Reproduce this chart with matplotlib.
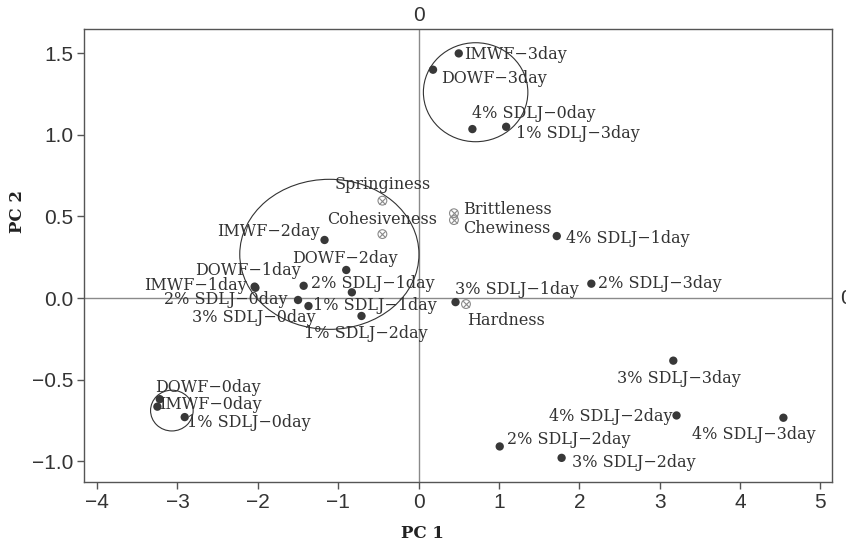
import matplotlib
matplotlib.use("Agg")
import matplotlib.pyplot as plt
from matplotlib.patches import Ellipse

# sample scores (PC1, PC2)
samples = ["IMWF−0day", "DOWF−0day", "1% SDLJ−0day", "2% SDLJ−0day", "3% SDLJ−0day", "4% SDLJ−0day",
           "IMWF−1day", "DOWF−1day", "1% SDLJ−1day", "2% SDLJ−1day", "3% SDLJ−1day", "4% SDLJ−1day",
           "IMWF−2day", "DOWF−2day", "1% SDLJ−2day", "2% SDLJ−2day", "3% SDLJ−2day", "4% SDLJ−2day",
           "IMWF−3day", "DOWF−3day", "1% SDLJ−3day", "2% SDLJ−3day", "3% SDLJ−3day", "4% SDLJ−3day"]
pc1 = [-3.25, -3.22, -2.91, -1.50, -0.83, 0.67,
       -2.03, -2.04, -1.37, -1.43, 0.46, 1.72,
       -1.17, -0.90, -0.71, 1.01, 1.78, 3.21,
       0.50, 0.18, 1.09, 2.15, 3.17, 4.54]
pc2 = [-0.666, -0.62, -0.73, -0.012, 0.035, 1.036,
       0.063, 0.07, -0.049, 0.075, -0.025, 0.38,
       0.356, 0.172, -0.11, -0.91, -0.98, -0.72,
       1.50, 1.40, 1.05, 0.088, -0.384, -0.734]

# texture attributes (loadings)
attrs = ["Springiness", "Cohesiveness", "Brittleness", "Chewiness", "Hardness"]
attr_pc1 = [-0.45, -0.45, 0.44, 0.44, 0.59]
attr_pc2 = [0.597, 0.392, 0.52, 0.478, -0.037]

# group circles: centre x, centre y, width, height
grp_x = [0.71, -1.11, -3.07]
grp_y = [1.262, 0.268, -0.69]
grp_w = [1.30, 2.23, 0.53]
grp_h = [0.607, 0.92, 0.25]

xticks = [-4, -3, -2, -1, 0, 1, 2, 3, 4, 5]
yticks = [-1.0, -0.5, 0.0, 0.5, 1.0, 1.5]

# label placement (offset in pixels, horizontal alignment)
lab_pos = {
    "IMWF−0day": (2, 2, "left"), "DOWF−0day": (-5, 12, "left"), "1% SDLJ−0day": (2, -5, "left"),
    "2% SDLJ−0day": (-11, 0, "right"), "3% SDLJ−0day": (-36, -25, "right"), "4% SDLJ−0day": (0, 16, "left"),
    "IMWF−1day": (-9, 2, "right"), "DOWF−1day": (-7, 16, "center"), "1% SDLJ−1day": (5, 1, "left"),
    "2% SDLJ−1day": (7, 2, "left"), "3% SDLJ−1day": (-1, 13, "left"), "4% SDLJ−1day": (9, -2, "left"),
    "IMWF−2day": (-5, 8, "right"), "DOWF−2day": (-1, 11, "center"), "1% SDLJ−2day": (4, -18, "center"),
    "2% SDLJ−2day": (7, 7, "left"), "3% SDLJ−2day": (10, -5, "left"), "4% SDLJ−2day": (-4, -1, "right"),
    "IMWF−3day": (5, -1, "left"), "DOWF−3day": (8, -9, "left"), "1% SDLJ−3day": (10, -7, "left"),
    "2% SDLJ−3day": (7, 0, "left"), "3% SDLJ−3day": (6, -18, "center"), "4% SDLJ−3day": (-30, -17, "center"),
}
attr_lab = {"Springiness": (0, 16, "center"), "Cohesiveness": (0, 15, "center"),
            "Brittleness": (9, 4, "left"), "Chewiness": (9, -8, "left"), "Hardness": (1, -16, "left")}

plt.rcParams["font.family"] = "Liberation Sans"
fig = plt.figure(figsize=(8.46, 5.45), dpi=100)
ax = fig.add_axes([0.0996, 0.115, 0.8834, 0.831])

ax.axhline(0, color="#8a8a8a", lw=1, zorder=1)
ax.axvline(0, color="#8a8a8a", lw=1, zorder=1)

for cx, cy, w, h in zip(grp_x, grp_y, grp_w, grp_h):
    ax.add_patch(Ellipse((cx, cy), w, h, fill=False, edgecolor="#333333", lw=0.8, zorder=2))

ax.scatter(pc1, pc2, s=36, color="#383838", edgecolors="none", zorder=3)
ax.scatter(attr_pc1, attr_pc2, s=40, facecolors="none", edgecolors="#8a8a8a", linewidths=0.8, zorder=3)
ax.scatter(attr_pc1, attr_pc2, s=22, marker="x", color="#8a8a8a", linewidths=0.8, zorder=3)

for name, x, y in zip(samples, pc1, pc2):
    dx, dy, ha = lab_pos[name]
    ax.annotate(name, (x, y), xytext=(dx, dy), textcoords="offset pixels", ha=ha, va="center",
                family="DejaVu Serif", fontsize=11.5, color="#333333", zorder=4)
for name, x, y in zip(attrs, attr_pc1, attr_pc2):
    dx, dy, ha = attr_lab[name]
    ax.annotate(name, (x, y), xytext=(dx, dy), textcoords="offset pixels", ha=ha, va="center",
                family="DejaVu Serif", fontsize=11.5, color="#333333", zorder=4)

ax.set_xlim(-4.16, 5.14)
ax.set_ylim(-1.13, 1.647)
ax.set_xticks(xticks)
ax.set_yticks(yticks)
ax.set_yticklabels([f"{v:.1f}".replace("-", "\u2212") for v in yticks])
ax.tick_params(direction="out", length=5, width=1, color="#555555", labelsize=15,
               labelcolor="#333333", pad=3, top=False, right=False)
for sp in ax.spines.values():
    sp.set_color("#555555")
    sp.set_linewidth(1)

# reference line labels
ax.text(0, 1.675, "0", ha="center", va="bottom", fontsize=15, color="#333333", clip_on=False)
ax.text(5.32, 0, "0", ha="center", va="center", fontsize=15, color="#333333", clip_on=False)

ax.set_xlabel("PC 1", family="DejaVu Serif", fontweight="bold", fontsize=12, color="#222222")
ax.set_ylabel("PC 2", family="DejaVu Serif", fontweight="bold", fontsize=12, color="#222222")
ax.xaxis.set_label_coords(0.452, -0.095)
ax.yaxis.set_label_coords(-0.078, 0.597)

fig.savefig("out.png", dpi=100)
